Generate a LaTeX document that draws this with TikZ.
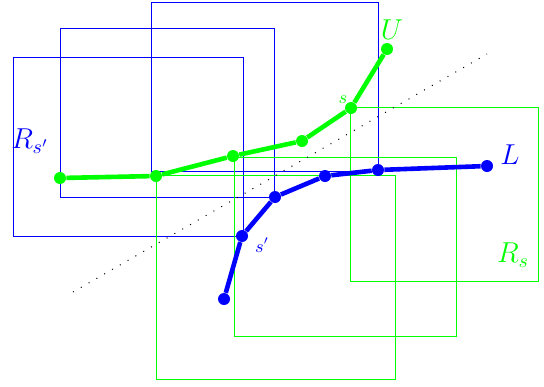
\documentclass[tikz,border=0pt]{standalone}
\usepackage{amsmath}
\begin{document}
\begin{tikzpicture}[x=0.5pt,y=-0.5pt,
  region/.style={line width=0.5pt},
  chain/.style={line width=2.3pt},
  pt/.style={circle,fill,inner sep=0pt,minimum size=6pt}]
\useasboundingbox (0,0) rectangle (544,386);

% regions around s'
\draw[blue,region] (13,57) rectangle (243,236);
\draw[blue,region] (60,28) rectangle (274,197);
\draw[blue,region] (151,2) rectangle (378,171);

% regions around s
\draw[green,region] (350,107) rectangle (538,281);
\draw[green,region] (234,157) rectangle (456,336);
\draw[green,region] (156,175) rectangle (395,379);

\draw[loosely dotted,line width=0.5pt] (73,292) -- (487,54);

% upper chain
\node[pt,green] (u1) at (60,178) {};
\node[pt,green] (u2) at (156,176) {};
\node[pt,green] (u3) at (233,156) {};
\node[pt,green] (u4) at (302,141) {};
\node[pt,green] (u5) at (351,108) {};
\node[pt,green] (u6) at (387,49) {};
\draw[green,chain] (u1) -- (u2) -- (u3) -- (u4) -- (u5) -- (u6);

% lower chain
\node[pt,blue] (l1) at (224,299) {};
\node[pt,blue] (l2) at (242,236) {};
\node[pt,blue] (l3) at (275,197) {};
\node[pt,blue] (l4) at (325,176) {};
\node[pt,blue] (l5) at (378,170) {};
\node[pt,blue] (l6) at (487,166) {};
\draw[blue,chain] (l1) -- (l2) -- (l3) -- (l4) -- (l5) -- (l6);

\node[green] (labU) at (392,30) {\Large $U$};
\node[green] (labs) at (343,100) {\small $s$};
\node[blue] (labL) at (510,155) {\Large $L$};
\node[blue] (labsp) at (262,245) {\small $s'$};
\node[blue] (labRsp) at (30,141) {\Large $R_{s'}$};
\node[green] (labRs) at (513,255) {\Large $R_s$};

\end{tikzpicture}
\end{document}
